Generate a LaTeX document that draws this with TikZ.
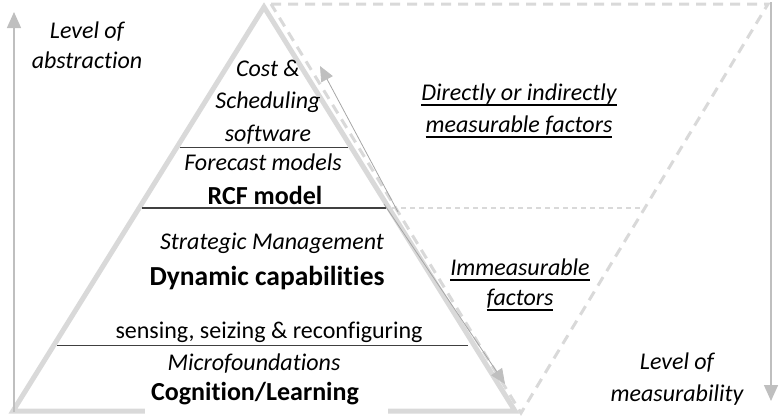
\documentclass[tikz,border=0pt]{standalone}
\usepackage{fontspec}
\setmainfont{Carlito}[Ligatures=NoCommon]
\usepackage{tikz}
\usetikzlibrary{arrows.meta, positioning}
\definecolor{pyrgray}{RGB}{217,217,217}
\definecolor{axisgray}{RGB}{191,191,191}
\definecolor{arrgray}{RGB}{166,166,166}
\definecolor{linedark}{RGB}{64,64,64}
% underline a bit lower and thicker than \underline
\newcommand{\ulfac}[1]{\setbox0\hbox{#1}\leavevmode\rlap{\rule[-5pt]{\wd0}{1.4pt}}\box0}

\begin{document}
\begin{tikzpicture}[x=1pt, y=-1pt,
    txt/.style={font=\fontsize{24}{31}\selectfont, align=center, inner sep=0pt},
    itxt/.style={txt, font=\fontsize{24}{31.5}\selectfont\itshape},
    btxt/.style={txt, font=\fontsize{26}{30}\selectfont\bfseries},
    axis/.style={axisgray, line width=1.5pt, -{Triangle[length=16pt, width=14pt]}},
    thinarr/.style={arrgray, line width=0.8pt, -{Triangle[length=15pt, width=13pt, fill=axisgray, color=axisgray]}},
    dashline/.style={pyrgray, line width=3pt, dash pattern=on 10pt off 7pt},
    layerline/.style={linedark, line width=1pt}]
    \useasboundingbox (0,0) rectangle (780,416);

    % Pyramid corners
    \coordinate (apex) at (264,7);
    \coordinate (bl) at (13,411);
    \coordinate (br) at (515,411);

    % Dashed inverted triangle (measurability)
    \coordinate (mTL) at (271,4);
    \coordinate (mTR) at (768,4);
    \coordinate (mB) at (521,413);
    \draw[dashline] (mTL) -- (mTR) -- (mB) -- cycle;
    \draw[pyrgray, line width=1.5pt, dash pattern=on 5pt off 4pt] (392,208) -- (643,208);

    % Pyramid outline
    \draw[pyrgray, line width=5pt] (apex) -- (bl) -- (br) -- cycle;
    \fill[white] (145,378) rectangle (388,416);

    % Layer separators
    \draw[layerline, line width=0.8pt] (180,147) -- (348,147);
    \draw[layerline, line width=1.3pt] (142,208) -- (386,208);
    \draw[layerline] (57,345) -- (468,345);

    % Axes
    \coordinate (absBot) at (14,412);
    \coordinate (absTop) at (14,12);
    \coordinate (measTop) at (771,2);
    \coordinate (measBot) at (771,401);
    \draw[axis] (absBot) -- (absTop);
    \draw[axis] (measTop) -- (measBot);

    % Arrows along the right side
    \coordinate (upS) at (398,212);
    \coordinate (upE) at (320,66);
    \coordinate (dnS) at (384,204);
    \coordinate (dnE) at (505,384);
    \draw[thinarr] (upS) -- (upE);
    \draw[thinarr] (dnS) -- (dnE);

    % Labels
    \node[itxt, font=\fontsize{24}{30}\selectfont\itshape] (abstr) at (87,45) {Level of\\abstraction};
    \node[itxt, font=\fontsize{24}{32}\selectfont\itshape] (meas) at (677,379) {Level of\\measurability};
    \node[itxt, font=\fontsize{24}{32.5}\selectfont\itshape] (cost) at (268,102) {Cost \&\\Scheduling\\software};
    \node[itxt] (forecast) at (263,162) {Forecast models};
    \node[btxt] (rcf) at (265,195) {RCF model};
    \node[itxt] (strat) at (272,243) {Strategic Management};
    \node[btxt, font=\fontsize{27.5}{30}\selectfont\bfseries] (dyn) at (267,278) {Dynamic capabilities};
    \node[txt] (sense) at (269,332) {sensing, seizing \& reconfiguring};
    \node[itxt] (micro) at (254,364) {Microfoundations};
    \node[btxt] (cogn) at (255,394) {Cognition/Learning};
    \node[itxt, font=\fontsize{24}{32}\selectfont\itshape] (direct) at (519,111) {\ulfac{Directly or indirectly}\\\ulfac{measurable factors}};
    \node[itxt, font=\fontsize{24}{30}\selectfont\itshape] (immeas) at (520,285) {\ulfac{Immeasurable}\\\ulfac{factors}};
\end{tikzpicture}
\end{document}
